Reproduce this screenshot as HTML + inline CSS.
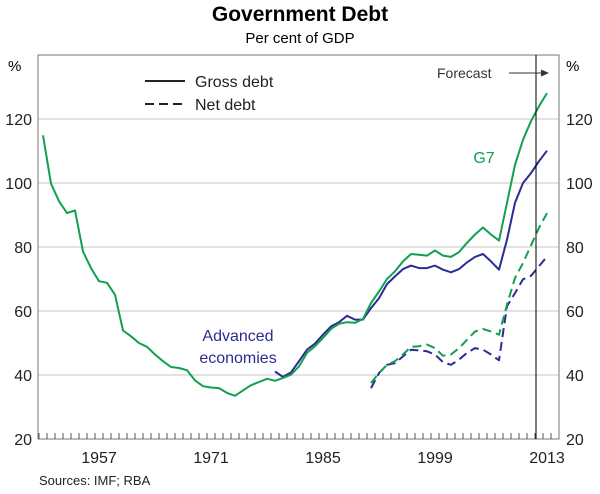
<!DOCTYPE html>
<html><head><meta charset="utf-8"><style>
body{margin:0;background:#fff;font-family:"Liberation Sans",Arial,sans-serif}
svg text{font-family:"Liberation Sans",Arial,sans-serif}
</style></head><body>
<svg id="c" width="600" height="489">
<text x="300" y="21" text-anchor="middle" font-size="21" font-weight="bold" fill="#000">Government Debt</text>
<text x="300" y="43" text-anchor="middle" font-size="15" fill="#000">Per cent of GDP</text>
<g id="grid"></g>
<rect x="38" y="55" width="521" height="384" fill="none" stroke="#777" stroke-width="1"/>
<g id="ticks"></g>
<g id="series"></g>
<text x="8" y="71" font-size="15">%</text>
<text x="566" y="71" font-size="15">%</text>
<g>
<line x1="145" y1="81" x2="185" y2="81" stroke="#222" stroke-width="2"/>
<text x="195" y="87" font-size="16" fill="#222">Gross debt</text>
<line x1="145" y1="104" x2="185" y2="104" stroke="#222" stroke-width="2" stroke-dasharray="9,5"/>
<text x="195" y="110" font-size="16" fill="#222">Net debt</text>
</g>
<text x="238" y="341" text-anchor="middle" font-size="16" fill="#2b2b94">Advanced</text>
<text x="238" y="363" text-anchor="middle" font-size="16" fill="#2b2b94">economies</text>
<text x="484" y="163" text-anchor="middle" font-size="16" fill="#10a050">G7</text>
<line x1="536" y1="55" x2="536" y2="439" stroke="#000" stroke-width="1"/>
<text x="437" y="78" font-size="14" fill="#333">Forecast</text>
<line x1="509" y1="73" x2="543" y2="73" stroke="#333" stroke-width="1"/>
<polygon points="549,73 541,69.5 541,76.5" fill="#333"/>
<text x="39" y="485" font-size="13" fill="#222">Sources: IMF; RBA</text>
</svg>
<script>
const yTicks=[20,40,60,80,100,120];
const xLabels=[1957,1971,1985,1999,2013];
const g7GrossStart=1950;
const g7Gross=[114.9,99.8,94.3,90.6,91.4,78.6,73.4,69.3,68.8,65.1,53.9,52.1,50,48.8,46.4,44.3,42.5,42.2,41.5,38.3,36.5,36.1,35.9,34.4,33.5,35.2,36.8,37.8,38.8,38.2,39.1,40.1,42.7,46.9,49,51.6,54.4,56,56.5,56.3,57.5,62.5,66.1,70,72.4,75.5,77.8,77.6,77.3,78.9,77.3,76.9,78.4,81.3,83.9,86.1,83.9,82,93.8,105.7,113.5,119.3,124,128.1];
const advGrossStart=1979;
const advGross=[41.1,39.4,40.8,44.3,47.9,49.8,52.6,55.2,56.5,58.5,57.3,57.3,60.9,64,68.4,70.8,73.1,74.2,73.4,73.4,74.2,72.9,72.1,73.1,75.2,76.9,77.8,75.5,72.9,82.3,93.8,100,103.1,106.8,110.1];
const netStart=1991;
const g7Net=[37.5,40.6,43.2,44.3,46.4,48.8,49,49.5,48.4,46,46.4,48.4,51,53.6,54.4,53.6,52.6,62,70.3,75,80.5,86,90.6];
const advNet=[35.9,40.6,43.2,43.7,45.8,47.9,47.7,47.4,46.4,44,43.2,44.8,46.9,48.4,47.9,46.4,44.6,61.5,65.6,69.9,71,74,77];
const NS="http://www.w3.org/2000/svg";
const xS=yr=>99+(yr-1957)*8;
const yS=v=>439-(v-20)*3.2;
function mk(tag,attrs,parent){const e=document.createElementNS(NS,tag);for(const k in attrs)e.setAttribute(k,attrs[k]);parent.appendChild(e);return e;}
const grid=document.getElementById('grid'),ticks=document.getElementById('ticks'),series=document.getElementById('series');
yTicks.forEach(v=>{
  if(v>20){const l=mk('line',{x1:38,x2:559,y1:yS(v),y2:yS(v),stroke:'#d0d0d0','stroke-width':1.3},grid);
  
  }
  const t1=mk('text',{x:32,y:yS(v)+6,'text-anchor':'end','font-size':16,fill:'#222'},ticks);t1.textContent=v;
  
  
  const t2=mk('text',{x:566,y:yS(v)+6,'font-size':16,fill:'#222'},ticks);t2.textContent=v;
  
  
});
for(let yr=1950;yr<=2014;yr++){const x=xS(yr)-4;if(x<=38||x>=559)continue;
  const l=mk('line',{x1:x,x2:x,y1:439,y2:433,stroke:'#555','stroke-width':1},ticks);
  
  }
xLabels.forEach(yr=>{const t=mk('text',{x:xS(yr),y:463,'text-anchor':'middle','font-size':16,fill:'#222'},ticks);t.textContent=yr;
  
  });
function line(arr,start,color,dash,name){
  const pts=arr.map((v,i)=>xS(start+i).toFixed(1)+','+yS(v).toFixed(1)).join(' ');
  const p=mk('polyline',{points:pts,fill:'none',stroke:color,'stroke-width':2,'stroke-linejoin':'round'},series);
  if(dash)p.setAttribute('stroke-dasharray','9,5');
  
  
}
line(advGross,advGrossStart,'#2b2b94',false,'advanced-gross-line');
line(g7Gross,g7GrossStart,'#10a050',false,'g7-gross-line');
line(advNet,netStart,'#2b2b94',true,'advanced-net-line');
line(g7Net,netStart,'#10a050',true,'g7-net-line');
</script>
</body></html>
